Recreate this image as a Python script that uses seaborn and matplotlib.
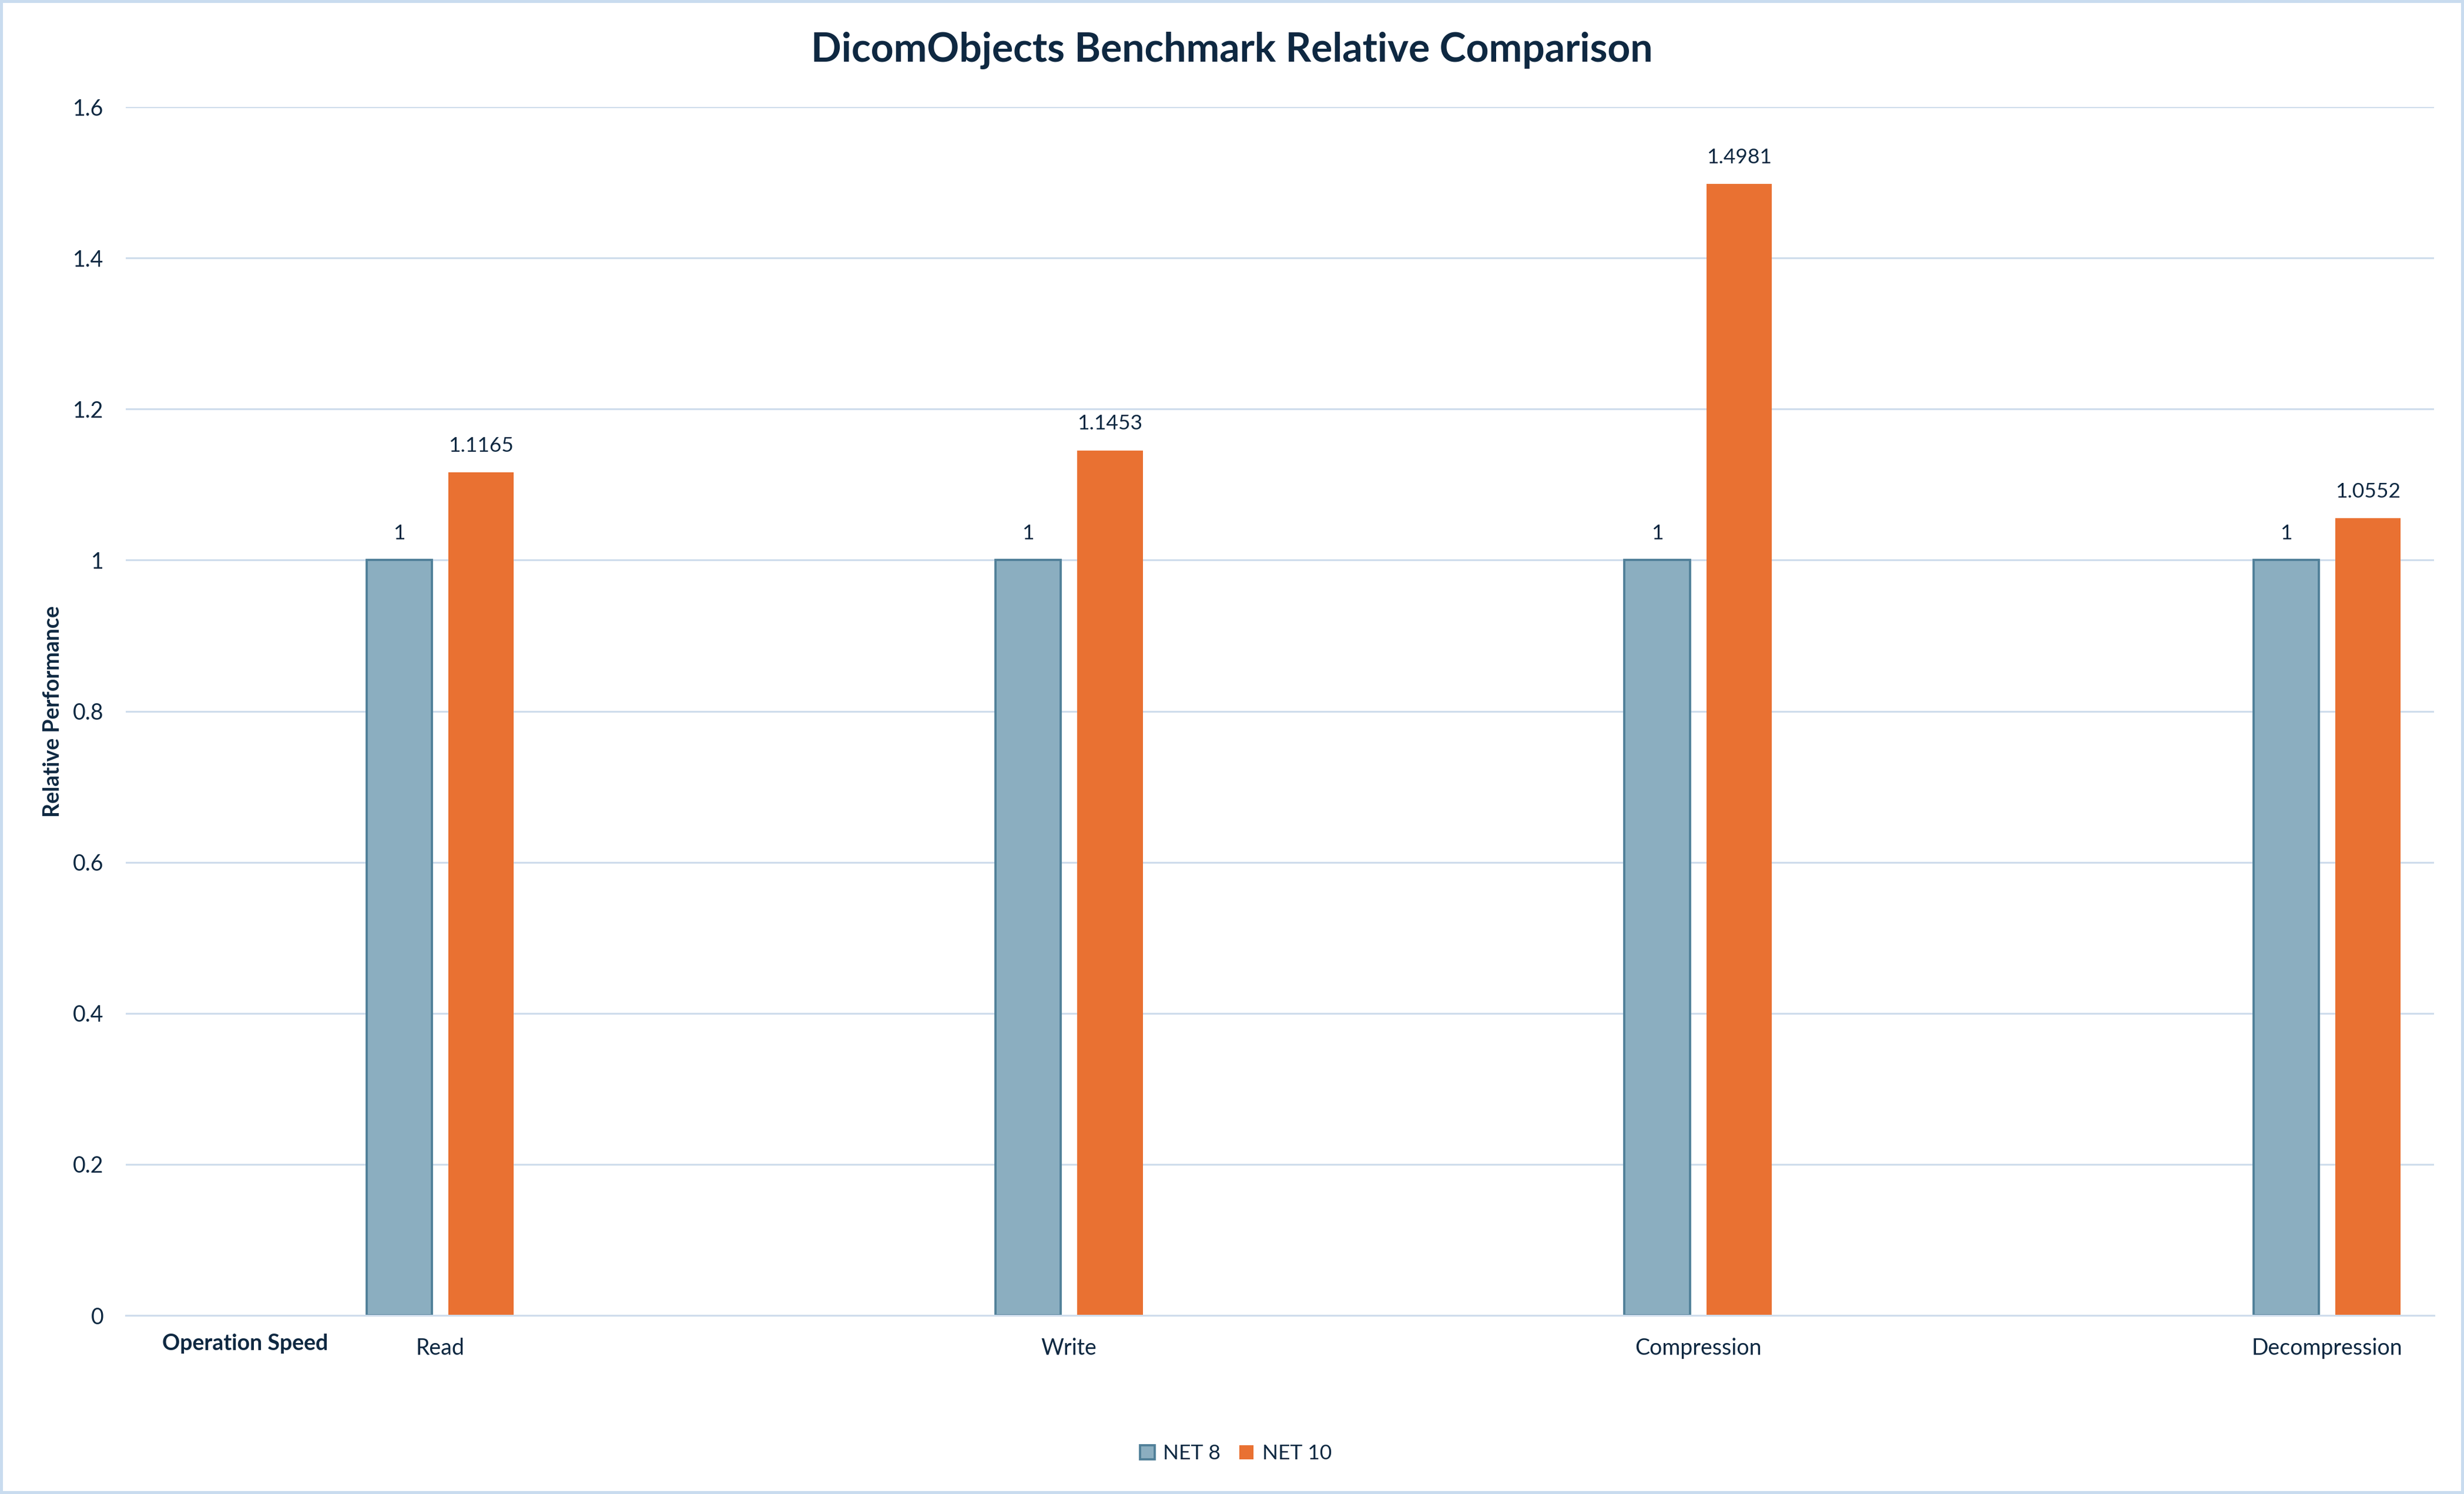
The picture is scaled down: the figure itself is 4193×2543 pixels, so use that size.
import pandas as pd
import seaborn as sns
import matplotlib.pyplot as plt
import matplotlib.patches as mpatches
from matplotlib.transforms import blended_transform_factory

# Data
operations = ["Read", "Write", "Compression", "Decompression"]
net8 = [1, 1, 1, 1]
net10 = [1.1165, 1.1453, 1.4981, 1.0552]
series = ["NET 8", "NET 10"]
y_ticks = [0, 0.2, 0.4, 0.6, 0.8, 1, 1.2, 1.4, 1.6]

df = pd.DataFrame({
    "Operation": operations * 2,
    "Value": net8 + net10,
    "Version": [series[0]] * len(operations) + [series[1]] * len(operations),
})

text_color = "#0E2841"
grid_color = "#CFDDEC"
blue_fill = "#8BAEC0"
blue_edge = "#4F7F98"
orange = "#E97132"

sns.set_style("white")
plt.rcParams["font.family"] = ["Lato", "DejaVu Sans"]
plt.rcParams["text.color"] = text_color

fig = plt.figure(figsize=(4193 / 300, 2543 / 300), dpi=300)
fig.patch.set_edgecolor("#C9DCEF")
fig.patch.set_linewidth(2)
ax = fig.add_axes([0.0510, 0.1195, 0.9368, 0.8089])

sns.barplot(data=df, x="Operation", y="Value", hue="Version",
            palette=[blue_fill, orange], width=0.26, gap=0.2,
            saturation=1, ax=ax)

for bar in ax.containers[0]:
    bar.set_edgecolor(blue_edge)
    bar.set_linewidth(0.9)
for bar in ax.containers[1]:
    bar.set_edgecolor("none")

for cont in ax.containers:
    ax.bar_label(cont, fmt="{:g}", padding=7, fontsize=8.5, color=text_color)

ax.set_xlim(-0.5, 3.17)
ax.set_ylim(0, 1.6)
ax.set_yticks(y_ticks)
ax.set_yticklabels([f"{t:g}" for t in y_ticks])
ax.yaxis.grid(True, color=grid_color, linewidth=0.75)
ax.set_axisbelow(True)
for side in ["top", "right", "left"]:
    ax.spines[side].set_visible(False)
ax.spines["bottom"].set_color(grid_color)
ax.spines["bottom"].set_linewidth(0.75)
ax.tick_params(axis="both", length=0, labelsize=9, colors=text_color)
ax.tick_params(axis="x", pad=9)
ax.tick_params(axis="y", pad=9)

ax.set_xlabel("")
ax.set_ylabel("Relative Performance", fontsize=9, fontweight="bold",
              color=text_color, labelpad=4)

# category header on the left of the x axis
trans = blended_transform_factory(ax.transData, ax.transAxes)
ax.text(-0.31, -0.015, "Operation Speed", transform=trans, ha="center",
        va="top", fontsize=9, fontweight="bold", color=text_color)

fig.suptitle("DicomObjects Benchmark Relative Comparison", x=0.5, y=0.966,
             va="center", fontsize=16.3, fontweight="bold", color=text_color)

ax.get_legend().remove()
handles = [
    mpatches.Patch(facecolor=blue_fill, edgecolor=blue_edge, linewidth=0.9, label=series[0]),
    mpatches.Patch(facecolor=orange, edgecolor="none", label=series[1]),
]
fig.legend(handles=handles, loc="center", bbox_to_anchor=(0.5015, 0.027),
           ncol=2, frameon=False, fontsize=8.5, handlelength=0.7,
           handleheight=0.7, handletextpad=0.4, columnspacing=0.9)

plt.savefig("out.png", dpi=300)
